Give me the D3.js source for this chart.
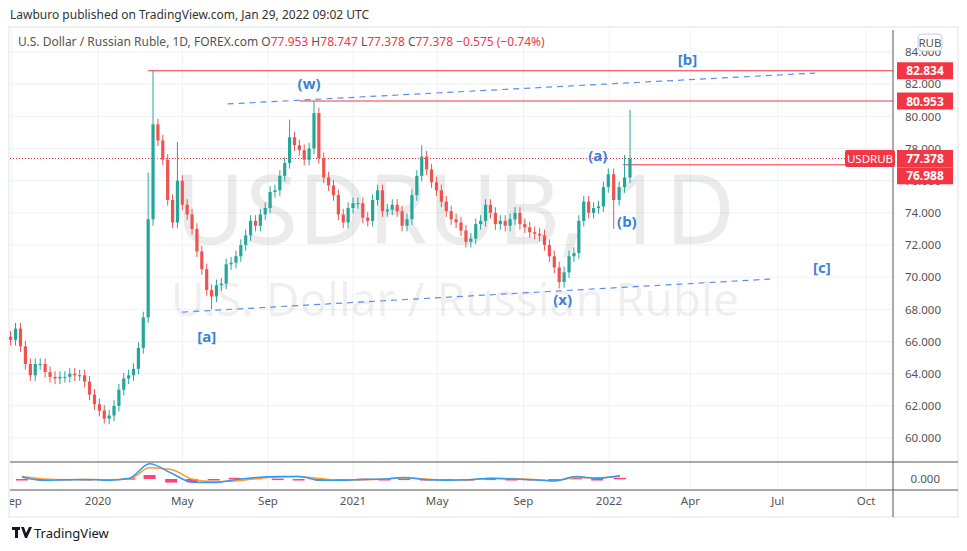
<!DOCTYPE html>
<html><head><meta charset="utf-8">
<script src="https://cdn.jsdelivr.net/npm/d3@7"></script>
<style>body{margin:0;background:#fff;font-family:"Noto Sans",Roboto,sans-serif}</style>
</head><body><svg id="c" width="967" height="551"></svg>
<script>
// weekly closes, starting 2019-08-30
var startWeek = "2019-08-30";
var closes = [66.1,66.8,65.7,64.6,63.9,64.6,64.6,64.1,63.8,63.7,63.8,63.8,64.0,63.9,63.9,63.5,62.7,62.1,61.7,61.2,
  61.4,62.0,63.0,63.7,63.9,64.3,65.6,67.5,73.6,79.5,78.5,77.3,74.8,73.4,76.0,74.5,73.9,73.0,71.6,70.5,
  69.2,68.8,69.5,69.6,70.8,70.9,71.3,72.0,72.6,73.5,73.2,73.9,74.3,75.3,75.4,76.3,77.1,78.7,78.2,77.9,
  77.3,78.0,80.2,77.4,76.2,75.7,75.1,73.9,73.4,74.3,74.6,74.6,73.7,73.5,74.8,75.4,74.1,74.2,74.5,74.1,
  73.2,73.6,75.1,76.3,77.5,76.7,75.9,75.4,74.7,74.1,73.6,73.4,72.9,72.2,72.4,73.3,73.5,74.5,74.0,73.3,
  73.5,73.2,73.6,74.0,73.3,73.1,72.8,72.7,72.6,72.0,71.3,70.6,69.7,70.3,71.3,71.5,73.5,74.7,74.0,74.3,
  74.4,75.6,76.4,74.8,75.6,76.2,77.378];
// notable wick extremes [week index, price]
var highs = [[29,82.834],[28,76.5],[34,78.4],[57,79.8],[62,80.953],[84,78.2],[126,80.4],[125,77.6]];
var lows = [[19,60.9],[41,68.0],[112,69.3],[29,73.2],[123,73.0]];
// MACD, monthly
var macdMonths = ["2019-09","2019-10","2019-11","2019-12","2020-01","2020-02","2020-03","2020-04","2020-05","2020-06","2020-07","2020-08","2020-09","2020-10","2020-11","2020-12","2021-01","2021-02","2021-03","2021-04","2021-05","2021-06","2021-07","2021-08","2021-09","2021-10","2021-11","2021-12","2022-01"];
var macdLine = [0.5,-0.3,-0.2,-0.1,-0.3,0.2,3.8,1.5,-0.8,-0.9,-0.2,0.4,0.6,0.6,-0.3,-0.3,-0.1,0.0,0.4,-0.2,-0.3,-0.2,0.2,0.0,-0.2,-0.5,0.6,0.2,0.9];
var signalLine = [0.6,0.0,-0.2,-0.1,-0.2,0.0,2.8,2.4,0.0,-0.7,-0.5,0.1,0.5,0.6,0.1,-0.3,-0.2,0.0,0.3,0.0,-0.3,-0.2,0.1,0.1,-0.1,-0.4,0.3,0.3,0.6];
var timeTicks = [["2019-09-01","Sep"],["2020-01-01","2020"],["2020-05-01","May"],["2020-09-01","Sep"],["2021-01-01","2021"],["2021-05-01","May"],["2021-09-01","Sep"],["2022-01-01","2022"],["2022-04-01","Apr"],["2022-07-01","Jul"],["2022-10-01","Oct"]];
var priceTicks = [60,62,64,66,68,70,72,74,76,78,80,82,84];
var levels = [["2020-03-13",82.834],["2020-10-16",80.953]];
var trendUp = [["2020-07-05",80.77],["2022-08-09",82.69]];
var trendDown = [["2020-05-01",67.83],["2022-06-23",69.88]];
var waveLabels = [["(w)","2020-10-30",81.7],["[b]","2022-03-29",83.2],["[a]","2020-06-05",66.0],["(x)","2021-10-27",68.27],["(a)","2021-12-16",77.2],["(b)","2022-01-24",73.1],["[c]","2022-08-16",70.25]];

var P = d3.timeParse("%Y-%m-%d"), M = d3.timeParse("%Y-%m");
var svg = d3.select("#c");
var L = 10, R = 893, T = 30, B = 462;
var x = d3.scaleTime()
  .domain(["2019-09-01","2020-01-01","2021-01-01","2022-01-01","2022-01-28","2022-10-01"].map(P))
  .range([12,98,353,609,630,866]);
var y = d3.scaleLinear().domain([60,84]).range([438,52]);
var blue = "#3b82d6", red = "#f23645", up = "#26a69a", dn = "#ef5350", grid = "#eef1f5";

svg.append("text").attr("x",10).attr("y",19).attr("font-size",12).attr("fill","#333")
  .text("Lawburo published on TradingView.com, Jan 29, 2022 09:02 UTC");
svg.append("rect").attr("x",9).attr("y",27).attr("width",949).attr("height",490).attr("fill","none").attr("stroke","#eef0f3").attr("stroke-width",2);

// grid
var g = svg.append("g");
priceTicks.forEach(function(p){ g.append("line").attr("x1",L).attr("x2",R).attr("y1",y(p)).attr("y2",y(p)).attr("stroke",grid); });
timeTicks.forEach(function(t){ g.append("line").attr("x1",x(P(t[0]))).attr("x2",x(P(t[0]))).attr("y1",T).attr("y2",490).attr("stroke",grid); });

// watermark
svg.append("text").attr("x",455).attr("y",244).attr("text-anchor","middle").attr("font-size",96).attr("fill","#000").attr("fill-opacity",0.08).text("USDRUB, 1D");
svg.append("text").attr("x",455).attr("y",316).attr("text-anchor","middle").attr("font-size",46).attr("fill","#000").attr("fill-opacity",0.08).text("U.S. Dollar / Russian Ruble");

// level lines
levels.forEach(function(l){ svg.append("line").attr("x1",x(P(l[0]))).attr("x2",R).attr("y1",y(l[1])).attr("y2",y(l[1])).attr("stroke",red); });
svg.append("line").attr("x1",x(P("2022-01-19"))).attr("x2",845).attr("y1",y(76.988)).attr("y2",y(76.988)).attr("stroke",red);
svg.append("line").attr("x1",L).attr("x2",R).attr("y1",y(77.378)).attr("y2",y(77.378)).attr("stroke",red).attr("stroke-dasharray","1,2");

// candles
var d0 = P(startWeek);
var hiMap = new Map(highs), loMap = new Map(lows);
var cg = svg.append("g");
closes.forEach(function(c,i){
  var o = i ? closes[i-1] : c + 0.2;
  var dt = d3.timeDay.offset(d0, i*7), cx = x(dt);
  var h = hiMap.has(i) ? hiMap.get(i) : Math.max(o,c) + 0.35;
  var lo = loMap.has(i) ? loMap.get(i) : Math.min(o,c) - 0.35;
  var col = c >= o ? up : dn;
  cg.append("line").attr("x1",cx).attr("x2",cx).attr("y1",y(h)).attr("y2",y(lo)).attr("stroke",col);
  var yt = y(Math.max(o,c)), yb = y(Math.min(o,c));
  cg.append("rect").attr("x",cx-1.6).attr("width",3.2).attr("y",yt).attr("height",Math.max(1,yb-yt)).attr("fill",col);
});

// trend lines
[trendUp,trendDown].forEach(function(t){
  svg.append("line").attr("x1",x(P(t[0][0]))).attr("y1",y(t[0][1])).attr("x2",x(P(t[1][0]))).attr("y2",y(t[1][1]))
    .attr("stroke","#5b8ff0").attr("stroke-dasharray","6,5").attr("stroke-width",1.2);
});
waveLabels.forEach(function(w){
  svg.append("text").attr("x",x(P(w[1]))).attr("y",y(w[2])).attr("text-anchor","middle").attr("font-size",15).attr("font-weight","bold").attr("fill",blue).text(w[0]);
});

// legend
var lg = svg.append("text").attr("x",18).attr("y",46).attr("font-size",12).attr("fill","#555");
lg.append("tspan").text("U.S. Dollar / Russian Ruble, 1D, FOREX.com  ");
[["O","77.953"],["H","78.747"],["L","77.378"],["C","77.378"]].forEach(function(p){
  lg.append("tspan").attr("fill","#555").text(p[0]); lg.append("tspan").attr("fill",red).text(p[1]+"  ");
});
lg.append("tspan").attr("fill",red).text("−0.575 (−0.74%)");

// right axis
svg.append("line").attr("x1",R).attr("x2",R).attr("y1",T).attr("y2",517).attr("stroke","#555");
svg.append("line").attr("x1",L).attr("x2",958).attr("y1",B).attr("y2",B).attr("stroke","#555");
svg.append("line").attr("x1",L).attr("x2",958).attr("y1",490).attr("y2",490).attr("stroke","#555");
var ax = svg.append("g").attr("transform","translate("+R+",0)")
  .call(d3.axisRight(y).tickValues(priceTicks).tickSize(0).tickPadding(12).tickFormat(d3.format(".3f")));
ax.select(".domain").remove();
ax.selectAll("text").attr("font-size",11.5).attr("fill","#555").attr("font-family","Noto Sans");
svg.append("rect").attr("x",918).attr("y",34).attr("width",24).attr("height",17).attr("rx",4).attr("fill","#fff").attr("stroke","#ccc");
svg.append("text").attr("x",930).attr("y",47).attr("text-anchor","middle").attr("font-size",11.5).attr("fill","#555").text("RUB");
[[82.834,0],[80.953,0],[77.378,0],[76.988,11]].forEach(function(t){
  var yy = y(t[0]) + t[1];
  svg.append("rect").attr("x",897).attr("y",yy-8.5).attr("width",56).attr("height",17).attr("fill",red);
  svg.append("text").attr("x",925).attr("y",yy+4.5).attr("text-anchor","middle").attr("font-size",12).attr("font-weight","bold").attr("fill","#fff").text(d3.format(".3f")(t[0]));
});
svg.append("rect").attr("x",845).attr("y",y(77.378)-8.5).attr("width",50).attr("height",17).attr("rx",2).attr("fill",red);
svg.append("text").attr("x",870).attr("y",y(77.378)+4.5).attr("text-anchor","middle").attr("font-size",11.5).attr("fill","#fff").text("USDRUB");

// MACD pane
var ym = d3.scaleLinear().domain([0,4]).range([479,463]);
var mx = macdMonths.map(function(m){ return x(d3.timeDay.offset(M(m),14)); });
macdLine.forEach(function(v,i){
  var hgt = v - signalLine[i];
  svg.append("rect").attr("x",mx[i]-6).attr("width",12).attr("y",Math.min(ym(0),ym(hgt))).attr("height",Math.max(1.5,Math.abs(ym(hgt)-ym(0)))).attr("fill","#ff1f6b").attr("opacity",0.85);
});
var ln = d3.line().x(function(d,i){ return mx[i]; }).y(function(d){ return ym(d); }).curve(d3.curveMonotoneX);
svg.append("path").attr("d",ln(signalLine)).attr("fill","none").attr("stroke","#ff9a2e").attr("stroke-width",1.5);
svg.append("path").attr("d",ln(macdLine)).attr("fill","none").attr("stroke","#2f9bf5").attr("stroke-width",1.5);
svg.append("text").attr("x",940).attr("y",483).attr("text-anchor","end").attr("font-size",11.5).attr("fill","#555").text("0.000");

// time axis
svg.append("clipPath").attr("id","tc").append("rect").attr("x",L).attr("y",490).attr("width",R-L).attr("height",27);
var tg = svg.append("g").attr("clip-path","url(#tc)");
timeTicks.forEach(function(t){
  tg.append("text").attr("x",x(P(t[0]))).attr("y",505).attr("text-anchor","middle").attr("font-size",11.5).attr("fill","#555").text(t[1]);
});

// logo
var logo = svg.append("g").attr("fill","#131722");
logo.append("rect").attr("x",12).attr("y",527).attr("width",8).attr("height",3);
logo.append("rect").attr("x",15).attr("y",527).attr("width",3).attr("height",11);
logo.append("path").attr("d","M21,527 L24,527 L26,533 L29,527 L32,527 L27,538 L25,538 Z");
svg.append("text").attr("x",34).attr("y",538).attr("font-size",13).attr("fill","#131722").text("TradingView");
</script></body></html>
